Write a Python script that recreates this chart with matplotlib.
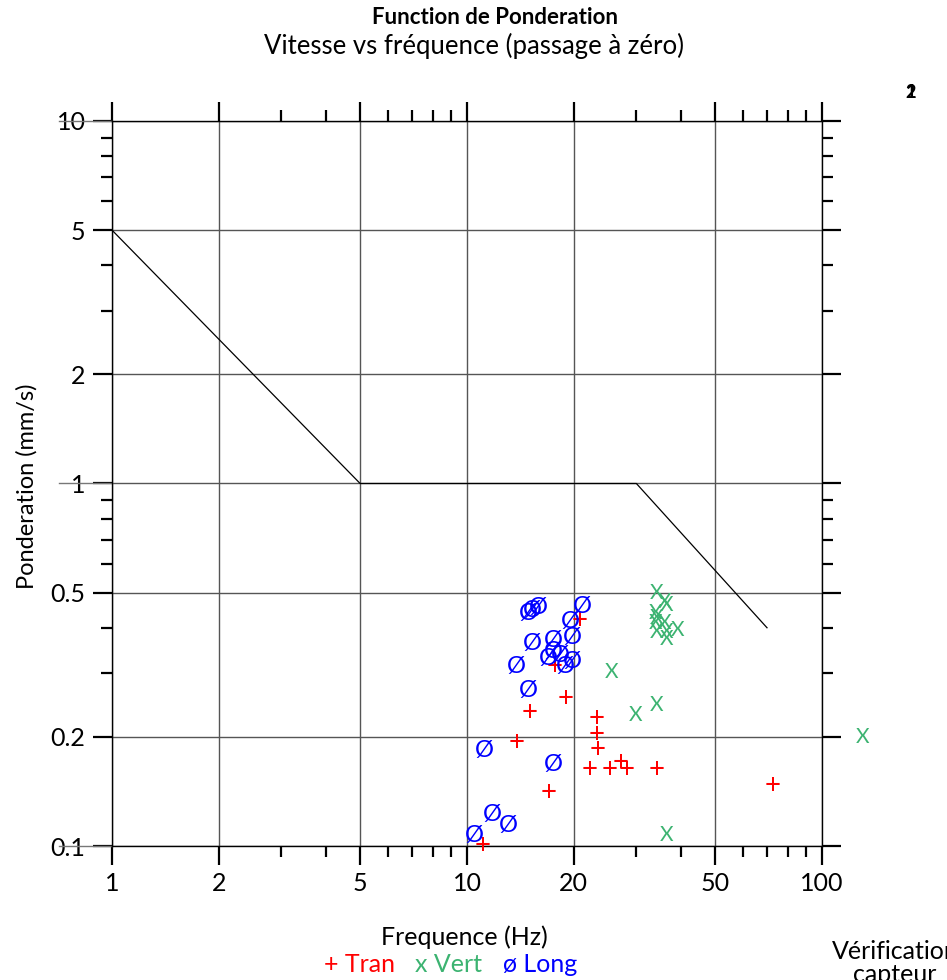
import matplotlib
matplotlib.use("Agg")
import matplotlib.pyplot as plt
import matplotlib.transforms as mtransforms

plt.rcParams['font.family'] = ['Lato', 'DejaVu Sans']

# Weighting limit curve
limit_freq = [1, 5, 30, 70]
limit_vel = [5, 1, 1, 0.4]

# Measured points (frequency Hz, velocity mm/s)
tran_freq = [20.8, 17.7, 18.9, 15.05, 23.2, 23.2, 13.8, 23.3, 22.2, 25.3, 27.0, 28.2, 34.1, 17.0, 11.1, 72.8]
tran_vel = [0.417, 0.312, 0.254, 0.233, 0.224, 0.202, 0.192, 0.184, 0.162, 0.162, 0.169, 0.162, 0.162, 0.140, 0.100, 0.146]

vert_freq = [34.1, 36.1, 36.4, 33.9, 34.3, 33.9, 34.3, 36.1, 36.4, 39.3, 36.4, 25.6, 34.1, 29.9, 130, 36.4]
vert_vel = [0.499, 0.471, 0.462, 0.439, 0.426, 0.412, 0.389, 0.412, 0.389, 0.394, 0.372, 0.302, 0.245, 0.230, 0.200, 0.107]

long_freq = [21.2, 19.5, 19.8, 17.5, 15.3, 14.85, 15.3, 15.85, 17.5, 18.3, 16.9, 19.8, 18.9, 13.8, 14.85, 11.2, 17.5, 11.8, 13.05, 10.5]
long_vel = [0.459, 0.417, 0.375, 0.370, 0.361, 0.439, 0.445, 0.456, 0.343, 0.336, 0.330, 0.322, 0.312, 0.312, 0.269, 0.183, 0.168, 0.122, 0.114, 0.107]

x_major = [1, 2, 5, 10, 20, 50, 100]
x_minor = [3, 4, 6, 7, 8, 9, 30, 40, 60, 70, 80, 90]
y_major = [0.1, 0.2, 0.5, 1, 2, 5, 10]
y_minor = [0.3, 0.4, 0.6, 0.7, 0.8, 0.9, 3, 4, 6, 7, 8, 9]

RED = "#ff0000"
GREEN = "#3cb371"
BLUE = "#0000ff"

fig = plt.figure(figsize=(9.47, 9.8), dpi=100)
ax = fig.add_axes([112 / 947, 1 - 846 / 980, 710 / 947, 725 / 980])
ax.set_xscale("log")
ax.set_yscale("log")
ax.set_xlim(1, 100)
ax.set_ylim(0.1, 10)

ax.set_xticks(x_major)
ax.set_xticks(x_minor, minor=True)
ax.set_xticklabels([str(v) for v in x_major])
ax.set_xticklabels([], minor=True)
ax.set_yticks(y_major)
ax.set_yticks(y_minor, minor=True)
ax.set_yticklabels([("%g" % v) for v in y_major])
ax.set_yticklabels([], minor=True)

ax.tick_params(which="both", direction="out", top=True, right=True,
               labeltop=False, labelright=False, color="black", labelsize=18)
ax.tick_params(which="major", length=14, width=1.6, pad=5)
ax.tick_params(which="minor", length=8, width=1.6)

ax.grid(True, which="major", color="#555555", linewidth=1)
for s in ax.spines.values():
    s.set_color("black")
    s.set_linewidth(1)

# grid lines at decades run out through the labels
trans = mtransforms.blended_transform_factory(ax.transAxes, ax.transData)
for yv in [10, 1, 0.1]:
    ax.plot([-0.075, 0], [yv, yv], color="#777777", lw=1, transform=trans, clip_on=False)

ax.plot(limit_freq, limit_vel, color="black", lw=0.9)

for f, v in zip(tran_freq, tran_vel):
    ax.text(f, v, "+", color=RED, fontsize=20, ha="center", va="center", clip_on=False)
for f, v in zip(vert_freq, vert_vel):
    ax.text(f, v, "X", color=GREEN, fontsize=15, ha="center", va="center", clip_on=False)
for f, v in zip(long_freq, long_vel):
    ax.text(f, v, "Ø", color=BLUE, fontsize=17, ha="center", va="center", clip_on=False)

fig.text(495 / 947, 1 - 17 / 980, "Function de Ponderation", fontsize=16, fontweight="bold",
         ha="center", va="center")
fig.text(474 / 947, 1 - 46 / 980, "Vitesse vs fréquence (passage à zéro)", fontsize=18.5,
         ha="center", va="center")

fig.text(27 / 947, 1 - 486 / 980, "Ponderation (mm/s)", fontsize=17, rotation=90,
         ha="center", va="center")
fig.text(464 / 947, 1 - 937 / 980, "Frequence (Hz)", fontsize=18, ha="center", va="center")
fig.text(359 / 947, 1 - 964 / 980, "+ Tran", fontsize=18, color=RED, ha="center", va="center")
fig.text(448 / 947, 1 - 964 / 980, "x Vert", fontsize=18, color=GREEN, ha="center", va="center")
fig.text(540 / 947, 1 - 964 / 980, "ø Long", fontsize=18, color=BLUE, ha="center", va="center")

fig.text(895 / 947, 1 - 963 / 980, "Vérification\ncapteur", fontsize=18, ha="center",
         va="center", linespacing=0.95)
fig.text(911 / 947, 1 - 92 / 980, "2", fontsize=13, fontweight="bold", ha="center", va="center")
fig.text(911 / 947, 1 - 92 / 980, "1", fontsize=13, fontweight="bold", ha="center", va="center")

fig.savefig("out.png", dpi=100)
